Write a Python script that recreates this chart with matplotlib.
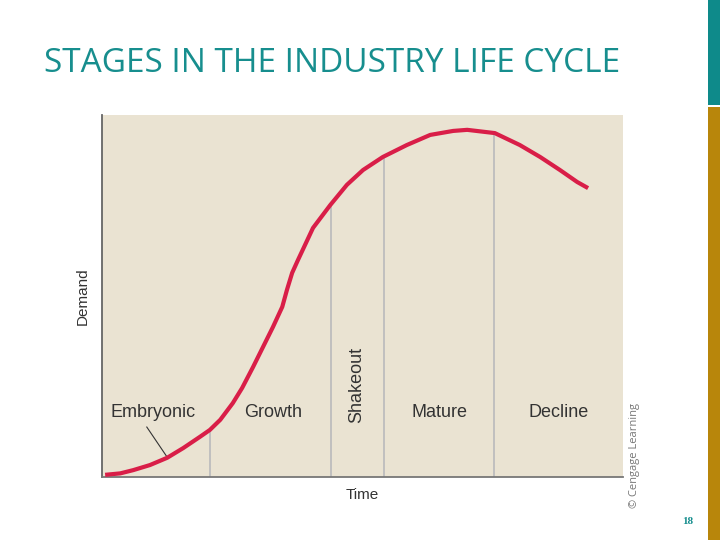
import numpy as np
import matplotlib
matplotlib.use("Agg")
import matplotlib.pyplot as plt

# demand curve (time 0-100, demand 0-100)
time = [0.6, 3.5, 6.0, 9.2, 12.5, 15.6, 18.8, 20.7, 22.7, 25.1, 26.9,
        29.0, 30.9, 32.8, 34.6, 35.5, 36.5, 37.6, 40.5, 43.8, 47.0,
        50.1, 53.9, 58.5, 63.0, 67.4, 70.1, 75.4, 80.2, 84.1, 87.9,
        91.2, 93.3]
demand = [0.6, 1.0, 1.9, 3.3, 5.3, 8.0, 11.1, 13.0, 15.8, 20.4, 24.6,
          30.4, 35.9, 41.4, 47.0, 51.7, 56.4, 59.9, 68.8, 75.1, 80.7,
          84.8, 88.4, 91.7, 94.5, 95.6, 95.9, 95.0, 91.7, 88.4, 84.8,
          81.5, 79.8]

# stage boundaries on the time axis
boundaries = [20.7, 44.0, 54.1, 75.2]
stages = ["Embryonic", "Growth", "Shakeout", "Mature", "Decline"]
stage_x = [9.8, 32.8, 48.9, 64.7, 87.7]

red = "#D91E48"
teal = "#178E8E"
bg = "#EAE3D2"

fig = plt.figure(figsize=(7.2, 5.4), dpi=100)
fig.patch.set_facecolor("white")

ax = fig.add_axes([102 / 720, 63 / 540, 521 / 720, 362 / 540])
ax.set_facecolor(bg)
ax.set_xlim(0, 100)
ax.set_ylim(0, 100)

for b in boundaries:
    top = np.interp(b, time, demand)
    ax.plot([b, b], [0, top], color="#BDBDBD", lw=1.3, zorder=1)

ax.plot(time, demand, color=red, lw=3.0, solid_joinstyle="round",
        solid_capstyle="butt", zorder=3)

font = "Liberation Sans"
for name, x in zip(stages, stage_x):
    if name == "Shakeout":
        ax.text(x, 25.4, name, rotation=90, ha="center", va="center",
                fontsize=13, color="#333333", family=font)
    else:
        ax.text(x, 17.7, name, ha="center", va="center",
                fontsize=13, color="#333333", family=font)

# pointer from the Embryonic label to the curve
ax.plot([8.6, 12.5], [13.8, 5.5], color="#333333", lw=0.8, zorder=2)

ax.set_xticks([])
ax.set_yticks([])
for side in ["top", "right"]:
    ax.spines[side].set_visible(False)
ax.spines["left"].set_color("#666666")
ax.spines["bottom"].set_color("#777777")
ax.spines["left"].set_linewidth(1.3)
ax.spines["bottom"].set_linewidth(1.3)

ax.set_xlabel("Time", fontsize=11, family=font, color="#333333", labelpad=8)
ax.set_ylabel("Demand", fontsize=11, family=font, color="#333333", labelpad=9)

fig.text(44 / 720, 1 - 72 / 540, "STAGES IN THE INDUSTRY LIFE CYCLE",
         fontsize=24, color=teal, family="Open Sans", ha="left", va="baseline")

fig.text(634 / 720, 1 - 455 / 540, "© Cengage Learning", rotation=90,
         fontsize=8, color="#777777", family="Open Sans", ha="center", va="center")

fig.text(688 / 720, 1 - 521 / 540, "18", fontsize=8, color=teal,
         family="Liberation Serif", weight="bold", ha="center", va="center")

# side bars on the right edge
fig.add_artist(plt.Rectangle((708 / 720, 1 - 105 / 540), 12 / 720, 105 / 540,
                             transform=fig.transFigure, color="#0E8A8A", lw=0))
fig.add_artist(plt.Rectangle((708 / 720, 0), 12 / 720, 1 - 107 / 540,
                             transform=fig.transFigure, color="#B8860B", lw=0))

fig.savefig("out.png", dpi=100)
